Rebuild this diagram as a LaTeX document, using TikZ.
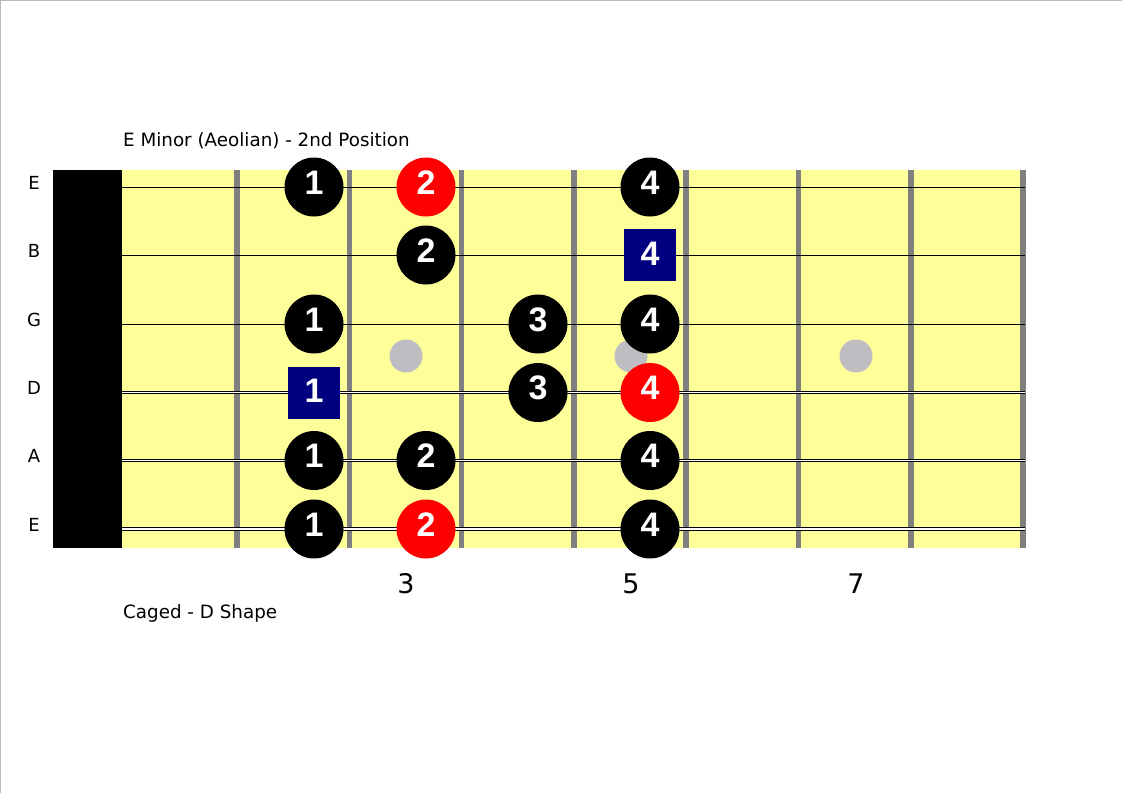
\documentclass[tikz,border=0pt]{standalone}
\usepackage{fontspec}
\setmainfont{DejaVu Sans}
\newfontfamily\notefont{Liberation Sans}
\usetikzlibrary{positioning}
\definecolor{boardyellow}{HTML}{FFFF99}
\definecolor{fretgray}{HTML}{808080}
\definecolor{dotgray}{HTML}{BEBEC2}
\definecolor{sqblue}{HTML}{000080}
\tikzset{
  fnote/.style={circle, fill=black, text=white, inner sep=0pt, minimum size=59pt,
                text depth=9pt, font=\notefont\bfseries\fontsize{34}{34}\selectfont},
  root/.style={fnote, fill=red},
  sqnote/.style={fnote, rectangle, fill=sqblue, minimum size=52pt, text depth=3pt},
  inlay/.style={circle, fill=dotgray, inner sep=0pt, minimum size=33pt},
  fretline/.style={draw=fretgray, line width=5.5pt},
  plainstr/.style={draw=black, line width=1pt},
  wound/.style={draw=black, double=white, double distance=#1, line width=1pt},
  strlab/.style={anchor=base, font=\fontsize{18}{18}\selectfont},
  fretnum/.style={anchor=base, font=\fontsize{27}{27}\selectfont},
  caption/.style={anchor=base west, inner sep=0pt, font=\fontsize{18.3}{18.3}\selectfont}
}
\begin{document}
\begin{tikzpicture}[x=1pt, y=-1pt]
  \useasboundingbox (0,0) rectangle (1122,793);
  \draw[gray!55, line width=1.2pt] (0.6,793) -- (0.6,0.6) -- (1122,0.6);
  % board and nut
  \fill[boardyellow] (122,170) rectangle (1023,548);
  \fill[black] (53,170) rectangle (122,548);
  \foreach \i in {0,...,7}
    \draw[fretline] ({237+112.3*\i},170) -- ++(0,378);
  \foreach \f/\x in {3/406, 5/631, 7/856} {
    \node[inlay] (dot\f) at (\x,356) {};
    \node[fretnum] (num\f) at (\x,593) {\f};
  }
  % strings
  \foreach \y in {187, 255, 324}
    \draw[plainstr] (122,\y) -- (1025,\y);
  \foreach \y/\d in {392.5/1.1pt, 460.5/1.5pt, 529/2.4pt}
    \draw[wound=\d] (122,\y) -- (1025,\y);
  \foreach \lab/\y [count=\n] in {E/187, B/255, G/324, D/392.5, A/460.5, E/529}
    \node[strlab] (lab\n) at (34,\y+2) {\lab};

  \node[caption] (title) at (123,146) {E Minor (Aeolian) - 2nd Position};
  \node[caption] (shape) at (123,618) {Caged - D Shape};

  % notes
  \node[fnote] (e1) at (314,187) {1};
  \node[root] (e2) at (426,187) {2};
  \node[fnote] (e4) at (650,187) {4};
  \node[fnote] (b2) at (426,255) {2};
  \node[sqnote] (b4) at (650,255) {4};
  \node[fnote] (g1) at (314,324) {1};
  \node[fnote] (g3) at (538,324) {3};
  \node[fnote] (g4) at (650,324) {4};
  \node[sqnote] (d1) at (314,392.5) {1};
  \node[fnote] (d3) at (538,392.5) {3};
  \node[root] (d4) at (650,392.5) {4};
  \node[fnote] (a1) at (314,460.5) {1};
  \node[fnote] (a2) at (426,460.5) {2};
  \node[fnote] (a4) at (650,460.5) {4};
  \node[fnote] (lowe1) at (314,529) {1};
  \node[root] (lowe2) at (426,529) {2};
  \node[fnote] (lowe4) at (650,529) {4};
\end{tikzpicture}
\end{document}
